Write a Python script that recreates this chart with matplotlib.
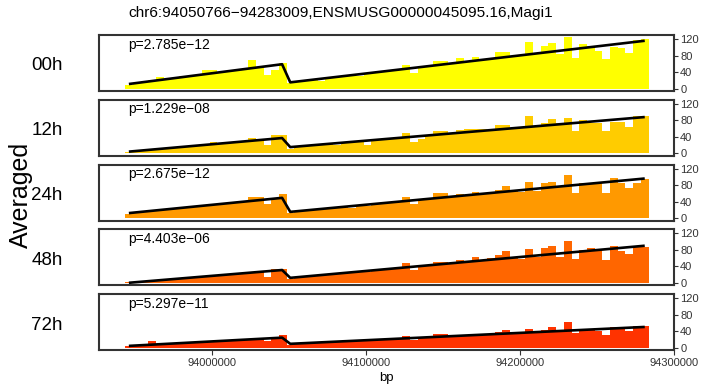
import numpy as np
import matplotlib
matplotlib.use("Agg")
import matplotlib.pyplot as plt

plt.rcParams['font.family'] = ['Liberation Sans', 'DejaVu Sans']

title = "chr6:94050766\u221294283009,ENSMUSG00000045095.16,Magi1"
samples = ["00h", "12h", "24h", "48h", "72h"]
colors = ["#FFFF00", "#FFCC00", "#FF9900", "#FF6600", "#FF3300"]
pvals = ["p=2.785e\u221212", "p=1.229e\u221208", "p=2.675e\u221212",
         "p=4.403e\u221206", "p=5.297e\u221211"]

bin_start = 93943500
bin_width = 5000

v00 = [9, 14, 16, 20, 28, 22, 25, 30, 29, 33, 44, 44, 38, 40, 43, 46, 70, 50, 32, 45, 62,
       14, 18, 20, 22, 19, 27, 29, 31, 33, 30, 37, 40, 43, 44, 47, 57, 37, 53, 55, 66,
       66, 60, 73, 66, 76, 70, 72, 88, 88, 80, 82, 113, 85, 104, 110, 83, 125, 75, 108,
       104, 91, 71, 100, 98, 86, 118, 120]
v12 = [3, 6, 7, 10, 11, 12, 14, 15, 17, 18, 20, 27, 24, 25, 26, 29, 37, 32, 20, 44, 45,
       10, 16, 18, 20, 21, 23, 19, 26, 27, 29, 20, 32, 34, 35, 37, 49, 28, 35, 44, 53,
       53, 47, 57, 58, 58, 58, 56, 69, 69, 61, 63, 91, 66, 73, 83, 73, 86, 55, 81,
       73, 73, 53, 77, 77, 63, 90, 90]
v24 = [10, 14, 15, 18, 19, 22, 23, 24, 28, 27, 31, 33, 33, 36, 38, 40, 51, 51, 33, 47, 59,
       12, 17, 18, 20, 19, 24, 24, 27, 25, 31, 30, 34, 36, 36, 40, 50, 33, 44, 47, 61,
       61, 52, 59, 55, 64, 59, 61, 67, 79, 66, 64, 88, 65, 84, 88, 78, 104, 61, 86,
       86, 86, 61, 98, 84, 72, 86, 96]
v48 = [2, 2, 3, 5, 6, 9, 9, 11, 12, 15, 15, 17, 18, 21, 21, 23, 26, 26, 15, 33, 34,
       10, 14, 15, 17, 19, 18, 22, 24, 23, 27, 26, 31, 32, 34, 35, 49, 31, 39, 43, 51,
       51, 47, 55, 51, 62, 54, 60, 68, 78, 61, 57, 82, 62, 84, 90, 63, 102, 58, 80,
       84, 78, 55, 90, 76, 69, 87, 87]
v72 = [3, 5, 6, 15, 8, 9, 10, 11, 12, 13, 14, 15, 16, 17, 18, 18, 20, 21, 17, 26, 30,
       7, 10, 11, 11, 13, 12, 14, 15, 14, 17, 16, 19, 20, 20, 21, 28, 18, 24, 25, 32,
       32, 27, 29, 29, 31, 30, 32, 37, 42, 34, 35, 45, 37, 42, 49, 40, 61, 36, 46,
       46, 40, 30, 50, 50, 40, 52, 52]
values = [v00, v12, v24, v48, v72]

# segmented regression fit (knots)
fit_x = [93946000, 94045500, 94050800, 94281000]
fit00 = [11, 59, 15, 116]
fit12 = [4, 37, 15, 88]
fit24 = [12, 49, 15, 96]
fit48 = [0, 31, 12, 90]
fit72 = [4, 24, 9, 50]
fits = [fit00, fit12, fit24, fit48, fit72]

yticks = [0, 40, 80, 120]
xticks = [94000000, 94100000, 94200000, 94300000]
xlim = (93926600, 94300000)
ylim = (-6, 130)

W, H = 702, 389
fig = plt.figure(figsize=(W / 100, H / 100), dpi=100)

left_px, right_px = 99, 674
frame_col = "#333333"
for k in range(5):
    top_px = 35 + 64.75 * k
    bot_px = top_px + 56
    ax = fig.add_axes([left_px / W, 1 - bot_px / H,
                       (right_px - left_px) / W, (bot_px - top_px) / H])
    vals = values[k]
    centers = bin_start + bin_width * (np.arange(len(vals)) + 0.5)
    ax.bar(centers, vals, width=bin_width, color=colors[k], linewidth=0)
    ax.plot(fit_x, fits[k], color="black", lw=1.9, solid_joinstyle="round",
            solid_capstyle="butt")
    ax.set_xlim(*xlim)
    ax.set_ylim(*ylim)
    ax.yaxis.tick_right()
    ax.set_yticks(yticks)
    ax.tick_params(axis="y", labelsize=8, length=3, width=0.8, color=frame_col,
                   labelcolor="#333333", pad=1.5)
    for s in ax.spines.values():
        s.set_color(frame_col)
        s.set_linewidth(1.5)
    ax.text(0.05, 0.83, pvals[k], transform=ax.transAxes, fontsize=10,
            va="center", ha="left", color="black")
    fig.text(47 / W, 1 - (top_px + 31) / H, samples[k], fontsize=13.5,
             ha="center", va="center")
    if k < 4:
        ax.set_xticks([])
    else:
        ax.set_xticks(xticks)
        ax.set_xticklabels([str(t) for t in xticks])
        ax.tick_params(axis="x", labelsize=8, length=3.5, width=0.8, color=frame_col,
                       labelcolor="#333333", pad=2.5)
        ax.set_xlabel("bp", fontsize=9.5, labelpad=3)

fig.text(341 / W, 1 - 13 / H, title, fontsize=11.1, ha="center", va="center")
fig.text(21 / W, 1 - 195 / H, "Averaged", fontsize=18, rotation=90,
         ha="center", va="center")

fig.savefig("out.png", dpi=100)
